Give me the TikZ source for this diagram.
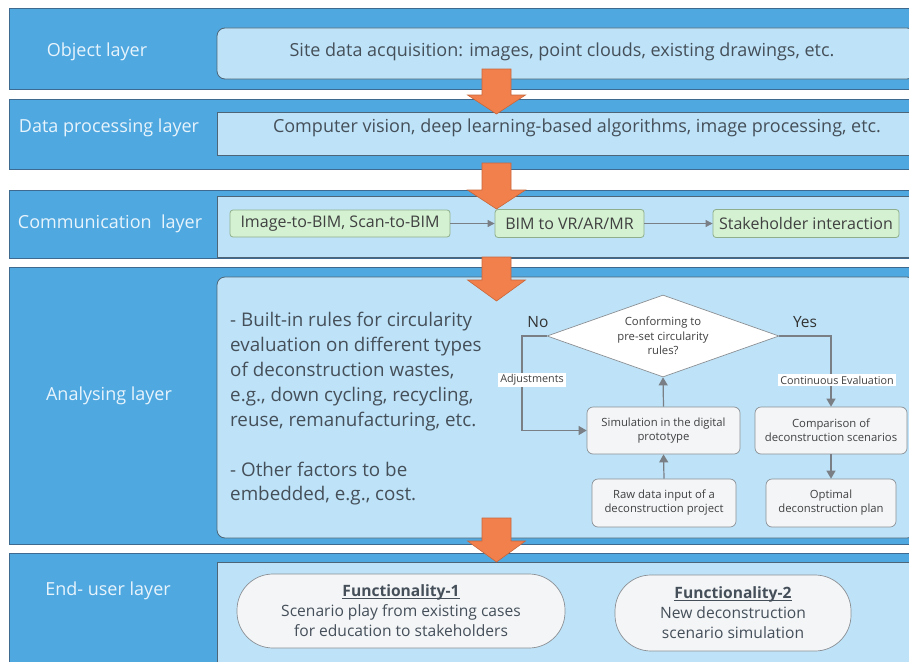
\documentclass[tikz,border=0pt]{standalone}
\usepackage{fontspec}
\setmainfont{Open Sans}
\usetikzlibrary{arrows.meta,shapes.geometric}
\definecolor{band}{HTML}{4FA8E0}
\definecolor{bandline}{HTML}{3D6A8E}
\definecolor{innerc}{HTML}{BEE3F8}
\definecolor{innerline}{HTML}{4E6477}
\definecolor{txt}{HTML}{454F59}
\definecolor{lbl}{HTML}{E8F4FC}
\definecolor{orng}{HTML}{F2804D}
\definecolor{orngline}{HTML}{C8663A}
\definecolor{grn}{HTML}{D4F1D2}
\definecolor{grnline}{HTML}{8FAF8C}
\definecolor{fbox}{HTML}{F3F5F7}
\definecolor{fline}{HTML}{8A8F94}
\definecolor{arr}{HTML}{7A7F85}
\newcommand\blockarrow[4]{\draw[orangearrow] (#1-14.5,#2) -- (#1+14.5,#2) -- (#1+14.5,#3) -- (#1+29,#3) -- (#1,#4) -- (#1-29,#3) -- (#1-14.5,#3) -- cycle;}
\newcommand\myul[1]{\setbox0\hbox{#1}\rlap{\rule[-2.2pt]{\wd0}{0.8pt}}\box0}
\begin{document}
\begin{tikzpicture}[x=1pt,y=-1pt,
  bandbox/.style={draw=bandline,line width=1pt,fill=band,rectangle,inner sep=0pt},
  innerbox/.style={draw=innerline,line width=0.8pt,fill=innerc,rectangle,inner sep=0pt},
  layerlbl/.style={text=lbl,font=\fontsize{18}{22}\selectfont,inner sep=0pt},
  maintxt/.style={text=txt,font=\fontsize{18}{22}\selectfont,inner sep=0pt},
  grnbox/.style={draw=grnline,line width=0.8pt,fill=grn,rounded corners=3pt,inner sep=0pt,text=black!75,font=\fontsize{16}{20}\selectfont},
  grnarrow/.style={draw=arr,line width=0.8pt,-{Triangle[width=7pt,length=7pt]}},
  flowbox/.style={draw=fline,line width=0.7pt,fill=fbox,rounded corners=6pt,inner sep=0pt,align=center,text=black!75,font=\fontsize{11.3}{14}\selectfont},
  flowline/.style={draw=arr,line width=1.2pt,-{Triangle[width=9pt,length=8pt]}},
  flowlbl/.style={fill=white,inner sep=2pt,text=black!75,font=\fontsize{10.8}{13}\selectfont},
  funcbox/.style={draw=fline,line width=0.7pt,fill=fbox,rounded corners=36pt,inner sep=0pt,align=center,text=txt,font=\fontsize{15.6}{20}\selectfont},
  orangearrow/.style={fill=orng,draw=orngline,line width=0.6pt}]
\useasboundingbox (0,0) rectangle (909,661);
\fill[white] (0,0) rectangle (909,661);
% bands
\node[bandbox,minimum width=903,minimum height=80] (L1) at (460.5,49) {};
\node[bandbox,minimum width=903,minimum height=70] (L2) at (460.5,134) {};
\node[bandbox,minimum width=903,minimum height=68] (L3) at (460.5,224) {};
\node[bandbox,minimum width=903,minimum height=277] (L4) at (460.5,405.5) {};
\node[bandbox,minimum width=903,minimum height=117] (L5) at (460.5,611.5) {};
% inner boxes
\node[innerbox,rounded corners=8pt,minimum width=698,minimum height=51] (I1) at (566,53.5) {};
\node[innerbox,minimum width=698,minimum height=43] (I2) at (566,133.5) {};
\node[innerbox,minimum width=698,minimum height=61] (I3) at (566,226.5) {};
\node[innerbox,rounded corners=8pt,minimum width=698,minimum height=261] (I4) at (566,407.5) {};
\node[innerbox,minimum width=698,minimum height=108] (I5) at (566,616) {};
% layer labels
\node[layerlbl] (T1) at (97,52) {Object layer};
\node[layerlbl] (T2) at (109,128) {Data processing layer};
\node[layerlbl] (T3) at (110,224) {Communication\ \ layer};
\node[layerlbl] (T4) at (109,396) {Analysing layer};
\node[layerlbl] (T5) at (108,591) {End- user layer};
% texts
\node[maintxt] (S1) at (562,52) {Site data acquisition: images, point clouds, existing drawings, etc.};
\node[maintxt] (S2) at (577,128) {Computer vision, deep learning-based algorithms, image processing, etc.};
% communication
\node[grnbox,minimum width=220,minimum height=27] (G1) at (340,223.5) {Image-to-BIM, Scan-to-BIM};
\node[grnbox,minimum width=149,minimum height=28] (G2) at (569.5,223.5) {BIM to VR/AR/MR};
\node[grnbox,minimum width=186,minimum height=28] (G3) at (806,223.5) {Stakeholder interaction};
\draw[grnarrow] (G1.east) -- (G2.west);
\draw[grnarrow] (G2.east) -- (G3.west);
% analysing text
\node[maintxt,anchor=north west,align=left,font=\fontsize{18.8}{24.9}\selectfont] (AT) at (230,312)
 {- Built-in rules for circularity\\evaluation on different types\\of deconstruction wastes,\\e.g., down cycling, recycling,\\reuse, remanufacturing, etc.\\[25pt]- Other factors to be\\embedded, e.g., cost.};
% flowchart
\node[diamond,draw=fline,line width=0.7pt,fill=white,aspect=2.83,minimum width=232,minimum height=82,inner sep=0pt] (D) at (663,336) {};
\node[align=center,text=black!75,font=\fontsize{11.3}{14.5}\selectfont,inner sep=0pt] (DT) at (663,336) {Conforming to\\pre-set circularity\\rules?};
\node[flowbox,minimum width=153,minimum height=47] (Sim) at (663.5,430.5) {Simulation in the digital\\prototype};
\node[flowbox,minimum width=144,minimum height=48] (Raw) at (664,503) {Raw data input of a\\deconstruction project};
\node[flowbox,minimum width=152,minimum height=47] (Comp) at (831,430.5) {Comparison of\\deconstruction scenarios};
\node[flowbox,minimum width=130,minimum height=48] (Opt) at (831,503) {Optimal\\deconstruction plan};
\coordinate (NL) at (522,336);
\draw[flowline] (D.west) -- (NL) |- (Sim.west);
\draw[flowline] (D.east) -| (Comp.north);
\draw[flowline] (Sim.north) -- (D.south);
\draw[flowline] (Raw.north) -- (Sim.south);
\draw[flowline] (Comp.south) -- (Opt.north);
\node[flowlbl] (Adj) at (532,380) {Adjustments};
\node[flowlbl] (Cont) at (837,380) {Continuous Evaluation};
\node[text=black!80,font=\fontsize{15.5}{18}\selectfont,inner sep=0pt] (No) at (538,322) {No};
\node[text=black!80,font=\fontsize{15.5}{18}\selectfont,inner sep=0pt] (Yes) at (805,322) {Yes};
% end user
\node[funcbox,minimum width=328,minimum height=74] (F1) at (401,611) {\myul{\textbf{Functionality-1}}\\Scenario play from existing cases\\for education to stakeholders};
\node[funcbox,minimum width=236,minimum height=76] (F2) at (733,613) {\myul{\textbf{Functionality-2}}\\New deconstruction\\scenario simulation};
% orange arrows
\blockarrow{496.5}{69}{95}{114}
\blockarrow{496.5}{163}{190}{209}
\blockarrow{496.5}{257}{280}{301}
\blockarrow{496.5}{518}{541}{562}
\end{tikzpicture}
\end{document}
